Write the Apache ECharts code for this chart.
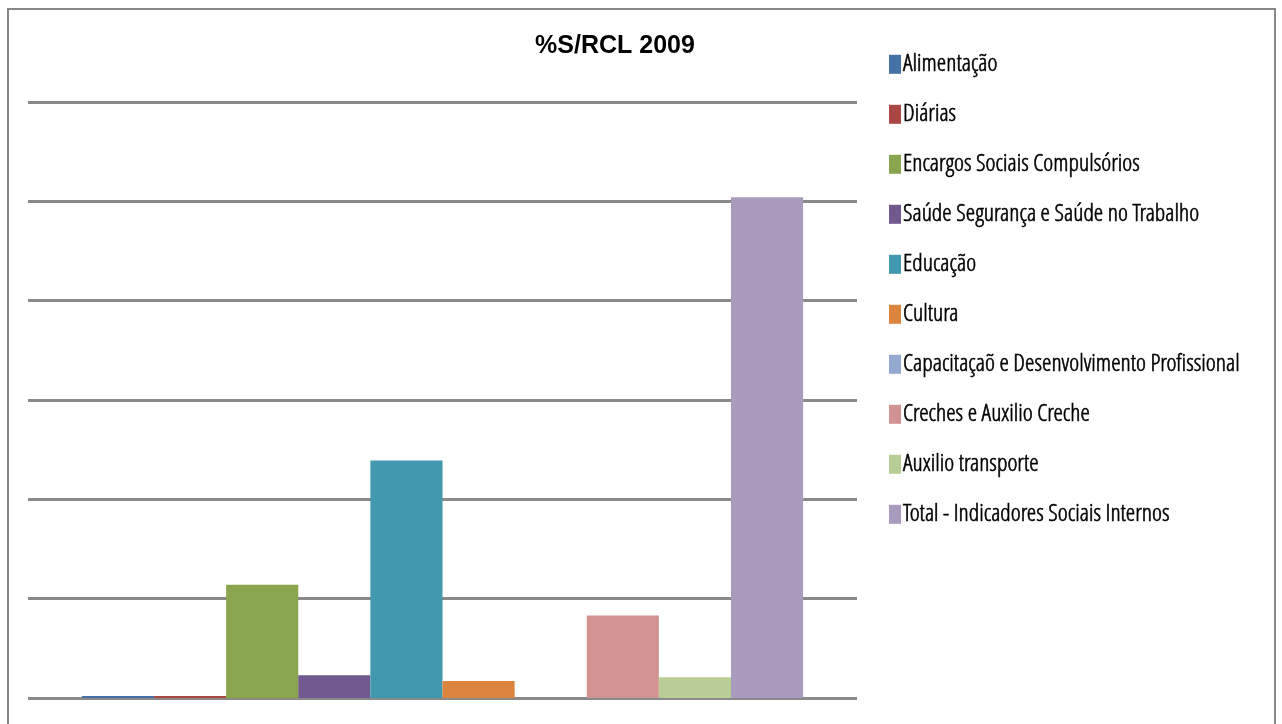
<!DOCTYPE html>
<html><head><meta charset="utf-8">
<script src="https://cdn.jsdelivr.net/npm/echarts@6/dist/echarts.min.js"></script>
<style>html,body{margin:0;padding:0;background:#fff}#c{width:1282px;height:724px}</style>
</head><body><div id="c"></div>
<script>
const categories = [''];
const seriesNames = ['Alimentação','Diárias','Encargos Sociais Compulsórios','Saúde Segurança e Saúde no Trabalho','Educação','Cultura','Capacitaçaõ e Desenvolvimento Profissional','Creches e Auxilio Creche','Auxilio transporte','Total - Indicadores Sociais Internos'];
const seriesValues = [0.02, 0.02, 1.14, 0.23, 2.39, 0.17, 0, 0.83, 0.21, 5.04];
const seriesColors = ['#4572A7','#AA4643','#89A54E','#71588F','#4198AF','#DB843D','#93A9CF','#D19392','#B9CD96','#A99BBD'];
const titleText = '%S/RCL 2009';

const chart = echarts.init(document.getElementById('c'), null, {renderer:'canvas'});
const legendFont = "'Open Sans Condensed Light','Open Sans Condensed','Liberation Sans Narrow',sans-serif";
chart.setOption({
  animation:false,
  title:{text:titleText,left:610,top:29,textAlign:'center',
    textStyle:{fontFamily:"'Liberation Sans',Arial,sans-serif",fontWeight:'bold',fontSize:25,lineHeight:25,color:'#000'}},
  graphic:[{type:'rect',shape:{x:8,y:9,width:1267,height:740},style:{fill:'none',stroke:'#888',lineWidth:2},z:-1}],
  legend:{orient:'vertical',left:884,top:47,itemWidth:12,itemHeight:19,itemGap:25.4,icon:'rect',
    data:seriesNames,
    textStyle:{fontFamily:legendFont,fontWeight:'normal',fontSize:24,lineHeight:19,color:'#000',
      textBorderColor:'#000',textBorderWidth:0.6,padding:[0,0,0,-3]}},
  grid:{left:28,right:425,top:102,bottom:26},
  xAxis:{type:'category',data:categories,axisLine:{show:false},axisTick:{show:false},axisLabel:{show:false}},
  yAxis:{type:'value',min:0,max:6,interval:1,axisLabel:{show:false},axisLine:{show:false},axisTick:{show:false},
    splitLine:{lineStyle:{color:'#8a8a8a',width:3}}},
  series: seriesNames.map((n,i)=>({name:n,type:'bar',data:[seriesValues[i]],barGap:'0%',barCategoryGap:'13%',
    itemStyle:{color:seriesColors[i]}}))
});
</script></body></html>
